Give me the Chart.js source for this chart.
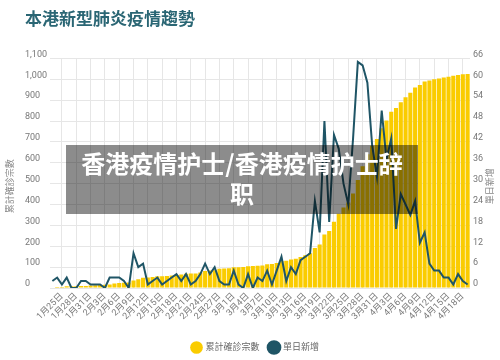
<!DOCTYPE html>
<html><head><meta charset="utf-8">
<script src="https://cdn.jsdelivr.net/npm/chart.js@4.4.1/dist/chart.umd.min.js"></script>
<style>
html,body{margin:0;padding:0;background:#fff;}
#wrap{position:relative;width:500px;height:360px;overflow:hidden;}
#banner{position:absolute;left:66px;top:145px;width:352px;height:69px;background:rgba(0,0,0,0.45);color:#fff;font-family:'Noto Sans CJK SC',sans-serif;font-weight:bold;font-size:24px;text-align:center;line-height:30px;padding-top:3px;box-sizing:border-box;}
</style></head><body>
<div id="wrap"><canvas id="c" width="500" height="360"></canvas><div id="banner">香港疫情护士/香港疫情护士辞<br>职</div></div>
<script>
const chartTitle = '本港新型肺炎疫情趨勢';
const seriesNames = ['累計確診宗數', '單日新增'];
const leftAxisTitle = '累計確診宗數';
const rightAxisTitle = '單日新增';
const dates = [
 '1月23日','1月24日','1月25日','1月26日','1月27日','1月28日','1月29日','1月30日','1月31日',
 '2月1日','2月2日','2月3日','2月4日','2月5日','2月6日','2月7日','2月8日','2月9日','2月10日',
 '2月11日','2月12日','2月13日','2月14日','2月15日','2月16日','2月17日','2月18日','2月19日','2月20日',
 '2月21日','2月22日','2月23日','2月24日','2月25日','2月26日','2月27日','2月28日','2月29日',
 '3月1日','3月2日','3月3日','3月4日','3月5日','3月6日','3月7日','3月8日','3月9日','3月10日',
 '3月11日','3月12日','3月13日','3月14日','3月15日','3月16日','3月17日','3月18日','3月19日','3月20日',
 '3月21日','3月22日','3月23日','3月24日','3月25日','3月26日','3月27日','3月28日','3月29日','3月30日','3月31日',
 '4月1日','4月2日','4月3日','4月4日','4月5日','4月6日','4月7日','4月8日','4月9日','4月10日',
 '4月11日','4月12日','4月13日','4月14日','4月15日','4月16日','4月17日','4月18日','4月19日'
];
const cumulative = [
 2,5,5,8,8,8,10,10,12,
 13,14,15,17,21,24,25,26,36,42,49,50,53,56,56,57,60,62,65,68,69,70,74,81,84,85,92,94,95,
 100,100,101,104,105,107,108,114,115,120,129,131,137,140,148,157,167,192,208,256,273,317,356,386,410,453,518,583,641,682,714,
 765,802,845,862,890,914,935,960,973,989,994,1000,1004,1008,1012,1017,1021,1024,1025
];
const daily = [
 2,3,1,3,0,0,2,2,1,
 1,1,0,3,3,3,2,0,10,6,7,1,2,3,1,2,3,4,2,4,1,2,4,7,4,6,2,1,1,
 5,1,0,4,0,3,2,5,1,5,9,2,6,4,8,9,10,25,16,48,19,44,40,30,24,43,65,64,59,41,32,
 51,37,43,17,27,24,21,25,13,16,7,5,5,3,3,1,4,2,1
];
const leftMax = 1100, leftStep = 100;
const rightMax = 66, rightStep = 6;
const labelEvery = 3, labelStart = 2;

const YELLOW = 'rgb(250,204,0)';
const TEAL = '#1f5566';
const GRID = '#e6e6e6';
const TXT = '#777';
const FONT = "Roboto, 'Noto Sans CJK TC', sans-serif";

const axisTitles = {
  id: 'axisTitles',
  afterDraw(chart) {
    const {ctx, chartArea} = chart;
    const cy = (chartArea.top + chartArea.bottom) / 2 + 13;
    [[10, leftAxisTitle], [490, rightAxisTitle]].forEach(([x, t]) => {
      ctx.save();
      ctx.fillStyle = '#888';
      ctx.font = "9px 'Noto Sans CJK TC', sans-serif";
      ctx.textAlign = 'center';
      ctx.textBaseline = 'middle';
      ctx.translate(x, cy); ctx.rotate(-Math.PI / 2); ctx.fillText(t, 0, 0);
      ctx.restore();
    });
  }
};

new Chart(document.getElementById('c'), {
  type: 'bar',
  data: {
    labels: dates,
    datasets: [
      { type: 'bar', label: seriesNames[0], data: cumulative, yAxisID: 'y', backgroundColor: YELLOW, borderWidth: 0, barPercentage: 0.86, categoryPercentage: 1.0, order: 2 },
      { type: 'line', label: seriesNames[1], data: daily, yAxisID: 'y1', borderColor: TEAL, backgroundColor: TEAL, borderWidth: 2, pointRadius: 0, tension: 0, order: 1 }
    ]
  },
  options: {
    responsive: false,
    animation: false,
    layout: { padding: { left: 25, right: 14, top: 0, bottom: -2 } },
    plugins: {
      title: { display: true, text: chartTitle, align: 'start', color: '#2a6674', font: { family: "'Noto Sans CJK TC', sans-serif", size: 17, weight: 'bold' }, padding: { top: 8, bottom: 30 } },
      legend: { position: 'bottom', labels: { usePointStyle: true, pointStyle: 'circle', boxWidth: 9, boxHeight: 9, color: '#666', font: { family: FONT, size: 9 }, padding: 10,
        sort: (a, b) => a.datasetIndex - b.datasetIndex } },
      tooltip: { enabled: false }
    },
    scales: {
      x: {
        offset: true,
        grid: { offset: false, drawTicks: false, color: (c) => ((c.index - labelStart) % labelEvery === 0 ? GRID : 'rgba(0,0,0,0)') },
        border: { display: false },
        ticks: { autoSkip: false, minRotation: 45, maxRotation: 45, padding: 3, color: TXT, font: { family: FONT, size: 9 },
          callback: (v, i) => ((i - labelStart) % labelEvery === 0 ? dates[i] : '') },
        afterFit: (s) => { s.height = 45; }
      },
      y: {
        position: 'left', min: 0, max: leftMax,
        grid: { color: GRID, drawTicks: false },
        border: { display: false },
        ticks: { stepSize: leftStep, crossAlign: 'far', labelOffset: -4, color: TXT, font: { family: FONT, size: 9 } },
        afterFit: (s) => { s.width = 25; }
      },
      y1: {
        position: 'right', min: 0, max: rightMax,
        grid: { drawOnChartArea: false, drawTicks: false },
        border: { display: false },
        ticks: { stepSize: rightStep, padding: 3, labelOffset: -4, color: TXT, font: { family: FONT, size: 9 } },
        afterFit: (s) => { s.width = 16; }
      }
    }
  },
  plugins: [axisTitles]
});
</script>
</body></html>
